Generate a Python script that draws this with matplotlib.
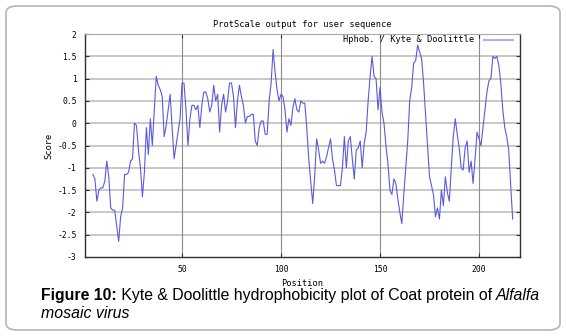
import matplotlib
matplotlib.use("Agg")
import matplotlib.pyplot as plt
from matplotlib.patches import FancyBboxPatch
from matplotlib.lines import Line2D

# Kyte & Doolittle scores (window 9), positions 5..217
start_pos = 5
scores = [
    -1.15, -1.25, -1.75, -1.5, -1.45, -1.45, -1.3, -0.85, -1.2, -1.9,    # 5-14
    -1.95, -1.95, -2.3, -2.65, -2.1, -1.9, -1.15, -1.15, -1.1, -0.85,    # 15-24
    -0.8, 0.0, -0.05, -0.6, -1.0, -1.65, -1.1, -0.1, -0.7, 0.1,          # 25-34
    -0.5, 0.3, 1.05, 0.85, 0.75, 0.6, -0.3, -0.05, 0.3, 0.65,            # 35-44
    -0.1, -0.8, -0.5, -0.2, 0.1, 0.9, 0.9, 0.3, -0.5, 0.1,               # 45-54
    0.4, 0.4, 0.3, 0.4, -0.1, 0.4, 0.7, 0.7, 0.55, 0.25,                 # 55-64
    0.4, 0.85, 0.5, 0.65, -0.2, 0.4, 0.65, 0.25, 0.5, 0.9,               # 65-74
    0.9, 0.6, -0.1, 0.5, 0.85, 0.6, 0.4, 0.0, 0.15, 0.15,                # 75-84
    0.2, 0.2, -0.4, -0.5, -0.1, 0.05, 0.05, -0.25, -0.25, 0.5,           # 85-94
    0.9, 1.65, 1.15, 0.75, 0.5, 0.65, 0.6, 0.3, -0.2, 0.1,               # 95-104
    -0.05, 0.35, 0.55, 0.3, 0.25, 0.5, 0.45, 0.45, -0.1, -0.8,           # 105-114
    -1.3, -1.8, -1.2, -0.35, -0.6, -0.9, -0.85, -0.9, -0.75, -0.55,      # 115-124
    -0.35, -0.8, -1.05, -1.4, -1.4, -1.4, -1.0, -0.3, -1.0, -0.4,        # 125-134
    -0.3, -0.8, -1.25, -0.6, -0.55, -0.4, -1.0, -0.45, -0.2, 0.5,        # 135-144
    1.05, 1.5, 1.05, 1.0, 0.3, 0.8, 0.25, 0.0, -0.5, -0.9,               # 145-154
    -1.5, -1.6, -1.25, -1.35, -1.7, -2.0, -2.25, -1.6, -1.0, -0.4,       # 155-164
    0.5, 0.8, 1.35, 1.4, 1.75, 1.6, 1.45, 0.9, 0.2, -0.5,                # 165-174
    -1.2, -1.4, -1.6, -2.1, -1.9, -2.15, -1.5, -1.85, -1.2, -1.55,       # 175-184
    -1.75, -1.0, -0.3, 0.1, -0.25, -0.55, -1.0, -1.05, -0.55, -0.4,      # 185-194
    -1.1, -0.85, -1.35, -0.8, -0.2, -0.35, -0.5, -0.1, 0.3, 0.7,         # 195-204
    0.95, 1.0, 1.5, 1.45, 1.5, 1.3, 0.9, 0.3, -0.1, -0.3,                # 205-214
    -0.6, -1.4, -2.15,                                                   # 215-217
]
positions = list(range(start_pos, start_pos + len(scores)))

x_ticks = [50, 100, 150, 200]
y_ticks = [-3, -2.5, -2, -1.5, -1, -0.5, 0, 0.5, 1, 1.5, 2]
y_labels = ["-3", "-2.5", "-2", "-1.5", "-1", "-0.5", "0", "0.5", "1", "1.5", "2"]

mono = "DejaVu Sans Mono"

fig = plt.figure(figsize=(5.66, 3.36), dpi=100)
fig.patch.set_facecolor("white")

# rounded frame around the whole figure
frame = FancyBboxPatch((6 / 566, 6 / 336), 554 / 566, 324 / 336,
                       boxstyle="round,pad=0,rounding_size=0.02",
                       transform=fig.transFigure, facecolor="none",
                       edgecolor="#b4b4b4", linewidth=1.2)
fig.patches.append(frame)

ax = fig.add_axes([85 / 566, 1 - 257 / 336, 435 / 566, 223 / 336])
ax.plot(positions, scores, color="#5a5ae0", linewidth=0.8)

ax.set_xlim(1, 220.7)
ax.set_ylim(-3, 2)
ax.set_xticks(x_ticks)
ax.set_xticklabels([str(t) for t in x_ticks], fontfamily=mono, fontsize=5.8)
ax.set_yticks(y_ticks)
ax.set_yticklabels(y_labels, fontfamily=mono, fontsize=5.8)

for y in y_ticks[1:-1]:
    ax.axhline(y, color="#c8c8c8", linewidth=1.4, zorder=0)
for x in x_ticks:
    ax.axvline(x, color="#8c8c8c", linewidth=0.8, zorder=0)

ax.tick_params(direction="in", length=3, width=0.8, color="#303030",
               top=True, right=True, pad=6)
for side in ["left", "bottom", "right"]:
    ax.spines[side].set_color("#303030")
    ax.spines[side].set_linewidth(1.0)
ax.spines["top"].set_color("#a8a8a8")

ax.set_title("ProtScale output for user sequence", fontfamily=mono,
             fontsize=6.2, pad=5)
ax.set_xlabel("Position", fontfamily=mono, fontsize=6.2, labelpad=3)
ax.set_ylabel("Score", fontfamily=mono, fontsize=6.2, labelpad=3)

# legend drawn in the corner
ax.text(0.895, 0.975, "Hphob. / Kyte & Doolittle", transform=ax.transAxes,
        ha="right", va="center", fontfamily=mono, fontsize=6.2)
ax.add_line(Line2D([0.918, 0.985], [0.972, 0.972], transform=ax.transAxes,
                   color="#b0b0f0", linewidth=1.5))

# caption
cap_y1 = 1 - 300 / 336
cap_y2 = 1 - 318 / 336
cap_size = 11.4
t1 = fig.text(41 / 566, cap_y1, "Figure 10:", fontfamily="Liberation Sans",
              fontweight="bold", fontsize=cap_size, va="baseline")
fig.canvas.draw()
r = fig.canvas.get_renderer()
bb = t1.get_window_extent(r)
t2 = fig.text(bb.x1 / 566, cap_y1,
              " Kyte & Doolittle hydrophobicity plot of Coat protein of ",
              fontfamily="Liberation Sans", fontsize=cap_size, va="baseline")
bb2 = t2.get_window_extent(r)
fig.text(bb2.x1 / 566, cap_y1, "Alfalfa", fontfamily="Liberation Sans",
         fontstyle="italic", fontsize=cap_size, va="baseline")
fig.text(41 / 566, cap_y2, "mosaic virus", fontfamily="Liberation Sans",
         fontstyle="italic", fontsize=cap_size, va="baseline")

fig.savefig("out.png", dpi=100)
